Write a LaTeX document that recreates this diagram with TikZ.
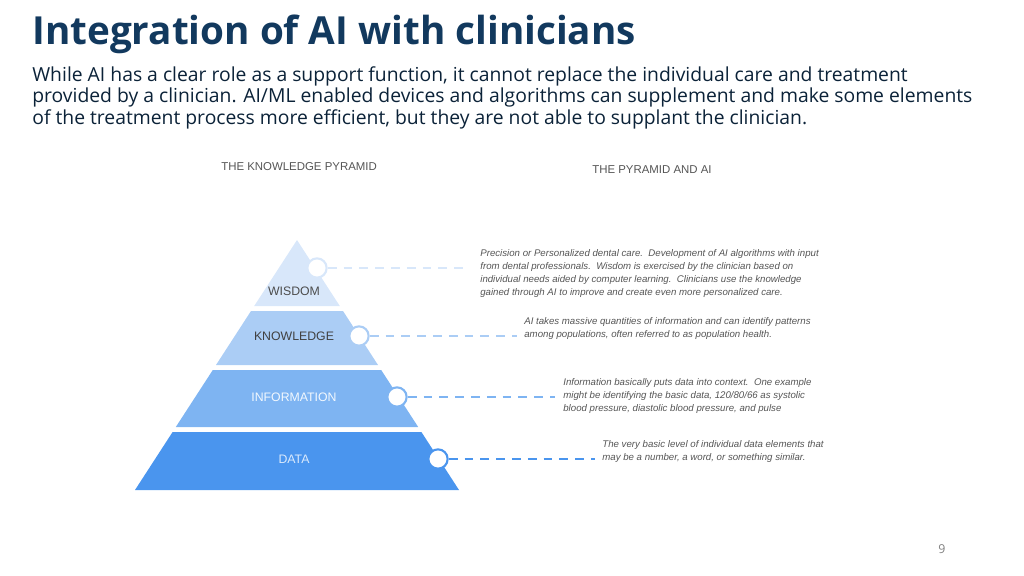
\documentclass[tikz,border=0pt]{standalone}
\usepackage{fontspec}
\setmainfont{Open Sans}
\newfontfamily\arialfont{Liberation Sans}
\usetikzlibrary{positioning}
\definecolor{titleblue}{HTML}{12395E}
\definecolor{bandA}{HTML}{D8E7FA}
\definecolor{bandB}{HTML}{ABCDF5}
\definecolor{bandC}{HTML}{7EB4F2}
\definecolor{bandD}{HTML}{4A95EE}
\definecolor{notegray}{HTML}{555555}
\tikzset{
	tag/.style={circle, draw=#1, line width=1.2pt, fill=white, minimum size=11pt, inner sep=0pt},
	link/.style={dashed, line width=1pt, draw=#1, dash pattern=on 5pt off 4pt},
	note/.style={anchor=north west, align=left, text=notegray, inner sep=0pt,
		font=\arialfont\itshape\fontsize{5.5}{7.4}\selectfont},
	level/.style={font=\arialfont\fontsize{7}{8}\selectfont},
	head/.style={font=\arialfont\fontsize{6.5}{8}\selectfont, text=notegray, anchor=west, inner sep=0pt}
}
\begin{document}
\begin{tikzpicture}[x=0.02cm, y=-0.02cm]
	\useasboundingbox (0,0) rectangle (1024,575);
	\node[anchor=west, inner sep=0pt, text=titleblue, font=\bfseries\fontsize{22}{24}\selectfont] (title) at (32,34) {Integration of AI with clinicians};
	\node[anchor=north west, inner sep=0pt, align=left, text=titleblue!60!black, font=\fontsize{11}{12.2}\selectfont] (intro) at (32,66)
		{While AI has a clear role as a support function, it cannot replace the individual care and treatment\\
		provided by a clinician. AI/ML enabled devices and algorithms can supplement and make some elements\\
		of the treatment process more efficient, but they are not able to supplant the clinician.};
	
	\node[head] (lefthead) at (221,167) {THE KNOWLEDGE PYRAMID};
	\node[head] (righthead) at (592,170) {THE PYRAMID AND AI};
	
	% pyramid bands
	\fill[bandA] (297,240) -- (339.8,306) -- (254.2,306) -- cycle;
	\fill[bandB] (343,311) -- (378,365) -- (216,365) -- (251,311) -- cycle;
	\fill[bandC] (381.2,370) -- (418.2,427) -- (175.8,427) -- (212.8,370) -- cycle;
	\fill[bandD] (421.4,432) -- (459,490) -- (135,490) -- (172.6,432) -- cycle;
	
	\node[level, text=black!70] (wisdom) at (294,291) {WISDOM};
	\node[level, text=black!75] (knowledge) at (294,336) {KNOWLEDGE};
	\node[level, text=white!90!bandC] (information) at (294,397) {INFORMATION};
	\node[level, text=white!80!bandD] (data) at (294,459) {DATA};
	
	\node[note] (noteA) at (480,249) {Precision or Personalized dental care.\ \ Development of AI algorithms with input\\
		from dental professionals.\ \ Wisdom is exercised by the clinician based on\\
		individual needs aided by computer learning.\ \ Clinicians use the knowledge\\
		gained through AI to improve and create even more personalized care.};
	\node[note] (noteB) at (524,317) {AI takes massive quantities of information and can identify patterns\\
		among populations, often referred to as population health.};
	\node[note] (noteC) at (563,378) {Information basically puts data into context.\ \ One example\\
		might be identifying the basic data, 120/80/66 as systolic\\
		blood pressure, diastolic blood pressure, and pulse};
	\node[note] (noteD) at (602,440) {The very basic level of individual data elements that\\
		may be a number, a word, or something similar.};
	
	\node[tag=bandA] (tagA) at (317,268) {};
	\node[tag=bandB] (tagB) at (359,336) {};
	\node[tag=bandC] (tagC) at (397,397) {};
	\node[tag=bandD] (tagD) at (438,459) {};
	\coordinate (endA) at (470,268);
	\coordinate (endB) at (517,336);
	\coordinate (endC) at (555,397);
	\coordinate (endD) at (595,459);
	\draw[link=bandA] (tagA) -- (endA);
	\draw[link=bandB] (tagB) -- (endB);
	\draw[link=bandC] (tagC) -- (endC);
	\draw[link=bandD] (tagD) -- (endD);
	
	\node[text=black!50, font=\fontsize{7}{8}\selectfont] (page) at (942,549) {9};
\end{tikzpicture}
\end{document}
